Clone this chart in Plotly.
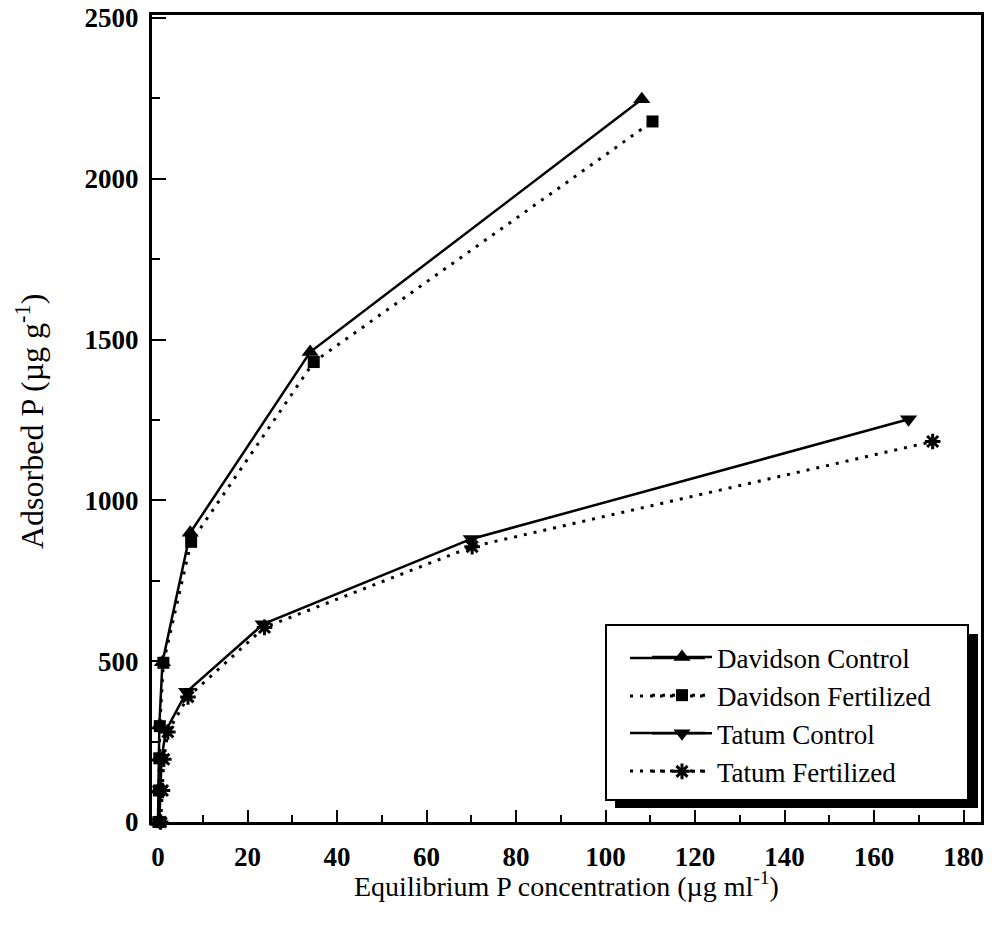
import plotly.graph_objects as go

# ---- data ----
dc_x = [0.0, 0.1, 0.2, 0.3, 1.0, 7.2, 34.0, 108.1]
dc_y = [0, 100, 200, 300, 497, 899, 1461, 2247]

df_x = [0.1, 0.2, 0.3, 0.4, 1.2, 7.4, 34.8, 110.5]
df_y = [0, 98, 198, 298, 495, 871, 1430, 2178]

tc_x = [0.3, 0.5, 0.8, 1.8, 6.4, 23.5, 70.0, 167.7]
tc_y = [0, 100, 200, 285, 405, 615, 880, 1252]

tf_x = [0.6, 1.0, 1.3, 2.2, 6.7, 23.8, 70.2, 173.1]
tf_y = [0, 98, 195, 280, 389, 605, 856, 1183]

names = ["Davidson Control", "Davidson Fertilized", "Tatum Control", "Tatum Fertilized"]
x_ticks = [0, 20, 40, 60, 80, 100, 120, 140, 160, 180]
y_ticks = [0, 500, 1000, 1500, 2000, 2500]

FONT = "Liberation Serif"
DOT = "3px,7px"

fig = go.Figure()

series = [
    (dc_x, dc_y, names[0], "solid", "triangle-up", 15, 0),
    (df_x, df_y, names[1], DOT, "square", 12, 0),
    (tc_x, tc_y, names[2], "solid", "triangle-down", 15, 0),
    (tf_x, tf_y, names[3], DOT, "asterisk", 13, 3),
]
for i, (xs, ys, nm, dash, sym, sz, lw) in enumerate(series):
    fig.add_trace(go.Scatter(
        x=xs, y=ys, name=nm, mode="lines+markers",
        line=dict(color="black", width=2.5 if dash == "solid" else 3, dash=dash),
        marker=dict(symbol=sym, size=sz, color="black",
                    line=dict(color="black", width=lw)),
        cliponaxis=False, legendgroup=f"g{i}",
    ))

# plot area in pixels: left 152, right 981, top 15, bottom 822
W, H = 1003, 933
L, R, T, B = 152, 22, 15, 111


def px_x(p):
    return (p - L) / (W - L - R)


def px_y(p):
    return (H - B - p) / (H - T - B)


# legend box with drop shadow
bx0, bx1, by0, by1 = 606, 968, 625, 800
shapes = [
    dict(type="rect", xref="paper", yref="paper",
         x0=px_x(bx0 + 9), x1=px_x(bx1 + 10), y0=px_y(by1 + 8), y1=px_y(by0 + 9),
         fillcolor="black", line=dict(width=0), layer="above"),
    dict(type="rect", xref="paper", yref="paper",
         x0=px_x(bx0), x1=px_x(bx1), y0=px_y(by1), y1=px_y(by0),
         fillcolor="white", line=dict(color="black", width=2), layer="above"),
]
# longer legend sample lines (legend symbols themselves come from the legend)
row_y = [658, 696, 733, 771]
for ry, (_, _, _, dash, _, _, _) in zip(row_y, series):
    shapes.append(dict(type="line", xref="paper", yref="paper",
                       x0=px_x(630), x1=px_x(705), y0=px_y(ry), y1=px_y(ry),
                       line=dict(color="black", width=2.5 if dash == "solid" else 3,
                                 dash=dash), layer="above"))

annotations = [
    dict(text="Equilibrium P concentration (µg ml<sup>-1</sup>)", xref="paper", yref="paper",
         x=px_x(566), y=px_y(904), xanchor="center", yanchor="bottom", showarrow=False,
         font=dict(family=FONT, size=28, color="black")),
    dict(text="Adsorbed P (µg g<sup>-1</sup>)", xref="paper", yref="paper",
         x=px_x(30), y=px_y(421), xanchor="center", yanchor="middle", showarrow=False,
         textangle=-90, font=dict(family=FONT, size=32, color="black")),
]

fig.update_layout(
    width=W, height=H,
    margin=dict(l=L, r=R, t=T, b=B, autoexpand=False),
    plot_bgcolor="white", paper_bgcolor="white",
    font=dict(family=FONT, color="black"),
    shapes=shapes,
    annotations=annotations,
    showlegend=True,
    legend=dict(
        x=px_x(647), y=px_y(633), xanchor="left", yanchor="top",
        bgcolor="rgba(0,0,0,0)", borderwidth=0,
        font=dict(family=FONT, size=27, color="black"),
        tracegroupgap=0, itemwidth=60,
    ),
    xaxis=dict(
        range=[-1.34, 183.9], showline=True, mirror=True, linecolor="black", linewidth=3,
        showgrid=False, zeroline=False, automargin=False,
        tickmode="array", tickvals=x_ticks, ticktext=[str(v) for v in x_ticks],
        ticks="inside", ticklen=12, tickwidth=2, tickcolor="black",
        minor=dict(ticks="inside", ticklen=7, tickwidth=2, tickcolor="black", dtick=10, tick0=0),
        tickfont=dict(family=FONT, size=27, color="black", weight="bold"),
        ticklabelstandoff=9,
    ),
    yaxis=dict(
        range=[0, 2509], showline=True, mirror=True, linecolor="black", linewidth=3,
        showgrid=False, zeroline=False, automargin=False,
        tickmode="array", tickvals=y_ticks, ticktext=[str(v) for v in y_ticks],
        ticks="inside", ticklen=14, tickwidth=2, tickcolor="black",
        minor=dict(ticks="inside", ticklen=8, tickwidth=2, tickcolor="black", dtick=250, tick0=0),
        tickfont=dict(family=FONT, size=27, color="black", weight="bold"),
        ticklabelstandoff=5,
    ),
)

fig.write_html("out.html")
